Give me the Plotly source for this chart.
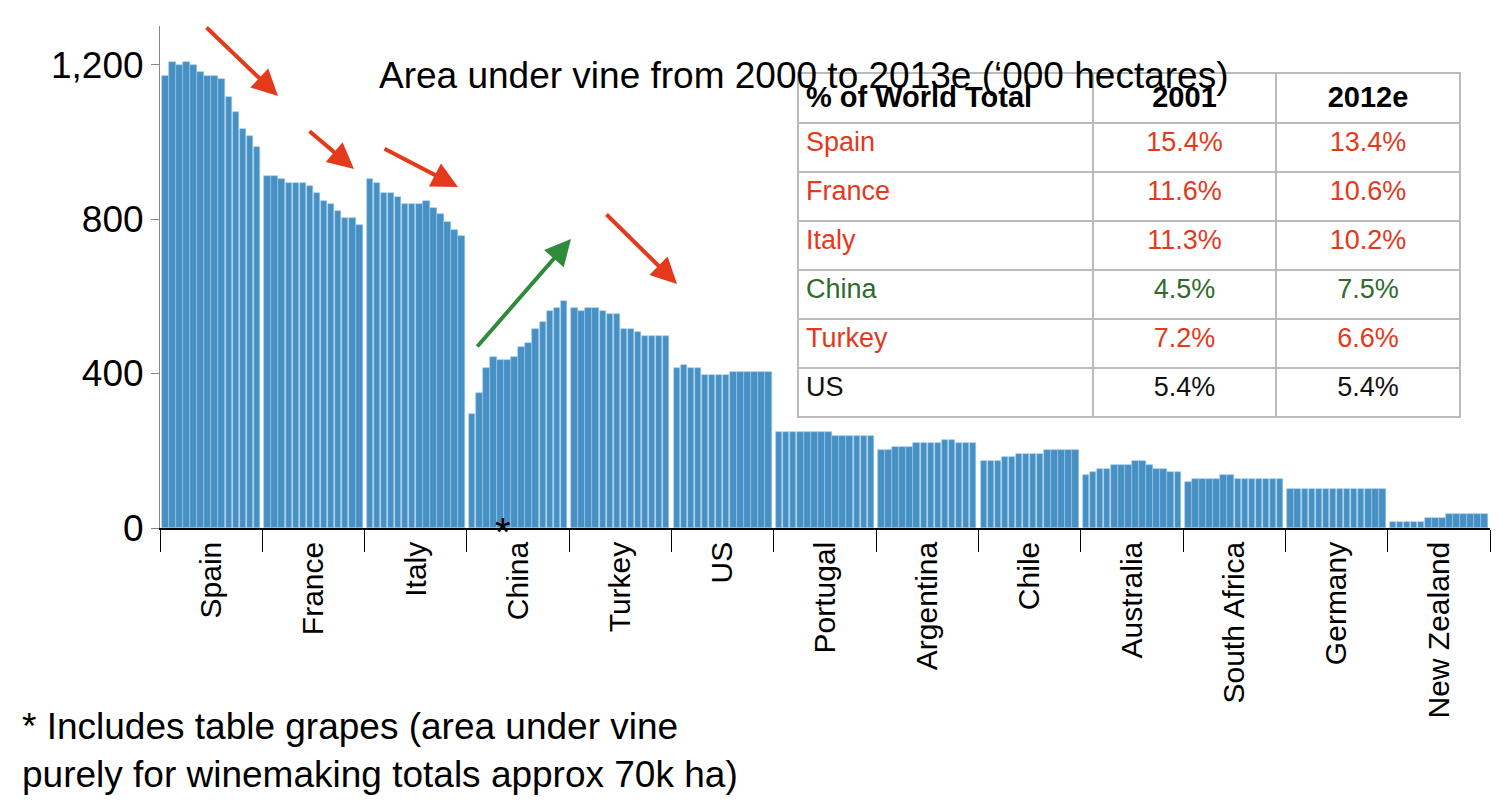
import plotly.graph_objects as go

countries = ["Spain", "France", "Italy", "China", "Turkey", "US", "Portugal", "Argentina",
             "Chile", "Australia", "South Africa", "Germany", "New Zealand"]
years = list(range(2000, 2014))

# '000 hectares, 2000..2013e
area = {
    "Spain": [1171, 1208, 1199, 1208, 1199, 1182, 1171, 1171, 1162, 1116, 1078, 1032, 1015, 987],
    "France": [912, 912, 903, 894, 894, 894, 886, 867, 848, 838, 821, 802, 802, 784],
    "Italy": [903, 894, 867, 867, 858, 840, 840, 840, 848, 829, 812, 793, 773, 756],
    "China": [294, 350, 415, 442, 434, 434, 442, 468, 480, 516, 534, 562, 570, 589],
    "Turkey": [570, 562, 570, 570, 562, 553, 553, 516, 516, 507, 497, 497, 497, 497],
    "US": [415, 423, 415, 415, 395, 395, 395, 395, 404, 404, 404, 404, 404, 404],
    "Portugal": [248, 248, 248, 248, 248, 248, 248, 248, 238, 238, 238, 238, 238, 238],
    "Argentina": [201, 201, 210, 210, 210, 219, 219, 219, 219, 228, 228, 219, 219, 219],
    "Chile": [173, 173, 173, 183, 183, 192, 192, 192, 192, 201, 201, 201, 201, 201],
    "Australia": [137, 146, 154, 154, 164, 164, 164, 173, 173, 164, 154, 154, 146, 146],
    "South Africa": [118, 127, 127, 127, 127, 137, 137, 127, 127, 127, 127, 127, 127, 127],
    "Germany": [100] * 14,
    "New Zealand": [16, 16, 16, 16, 16, 26, 26, 26, 35, 35, 35, 35, 35, 35],
}

tbl_country = ["Spain", "France", "Italy", "China", "Turkey", "US"]
tbl_2001 = ["15.4%", "11.6%", "11.3%", "4.5%", "7.2%", "5.4%"]
tbl_2012 = ["13.4%", "10.6%", "10.2%", "7.5%", "6.6%", "5.4%"]
tbl_colors = ["#e5391b", "#e5391b", "#e5391b", "#2f6b2f", "#e5391b", "#111111"]

STEP = 14.5
xs, ys, hov = [], [], []
for c, name in enumerate(countries):
    for i, v in enumerate(area[name]):
        xs.append(c * STEP + i)
        ys.append(v)
        hov.append(f"{name} {years[i]}")

SANS = "Liberation Sans, Arial, sans-serif"
L, R, T, B = 152, 26, 18, 285
W, H = 1508, 805


def px(x, y):
    # pixel -> paper coords
    return (x - L) / (W - L - R), (H - B - y) / (H - B - T)


fig = go.Figure()
fig.add_trace(go.Bar(
    x=xs, y=ys, width=0.92, hovertext=hov,
    marker=dict(color="#4690c4", line=dict(color="#9cc9ea", width=0.6)),
    showlegend=False,
))

fig.add_trace(go.Table(
    domain=dict(x=[px(790, 0)[0], px(1452, 0)[0]], y=[px(0, 410)[1], px(0, 65)[1]]),
    columnwidth=[295, 183, 184],
    header=dict(
        values=["<b>% of World Total</b>", "<b>2001</b>", "<b>2012e</b>"],
        align=["left", "center", "center"], height=50,
        font=dict(family=SANS, size=29, color="black"),
        fill_color="white", line=dict(color="#bbbbbb", width=2),
    ),
    cells=dict(
        values=[tbl_country, tbl_2001, tbl_2012],
        align=["left", "center", "center"], height=49,
        font=dict(family=SANS, size=27, color=[tbl_colors] * 3),
        fill_color="white", line=dict(color="#bbbbbb", width=2),
    ),
))

centers = [c * STEP + 6.5 for c in range(len(countries))]
fig.update_xaxes(
    range=[-0.75, (len(countries) - 1) * STEP + 13.75], automargin=False,
    tickvals=centers, ticktext=countries, tickangle=-90, ticks="",
    tickfont=dict(family=SANS, size=30, color="black"),
    showline=True, linecolor="black", linewidth=1.5, showgrid=False, zeroline=False,
    minor=dict(tick0=-0.75, dtick=STEP, ticks="outside", ticklen=22, tickcolor="black", showgrid=False),
)
fig.update_yaxes(
    range=[0, 1300], tickvals=[0, 400, 800, 1200], tickformat=",", automargin=False,
    tickfont=dict(family=SANS, size=37, color="black"),
    ticks="outside", ticklen=8, tickcolor="#888888",
    showline=True, linecolor="#888888", showgrid=False, zeroline=False,
)

anns = []
tx, ty = px(795, 45)
anns.append(dict(x=tx, y=ty, xref="paper", yref="paper", showarrow=False,
                 text="Area under vine from 2000 to 2013e (‘000 hectares)",
                 font=dict(family=SANS, size=37, color="black")))
ax_, ay_ = px(485, 548)
anns.append(dict(x=ax_, y=ay_, xref="paper", yref="paper", showarrow=False, text="*",
                 font=dict(family=SANS, size=40, color="black")))
fx, fy = px(12, 742)
anns.append(dict(x=fx, y=fy, xref="paper", yref="paper", showarrow=False, align="left",
                 xanchor="left", yanchor="middle",
                 text="* Includes table grapes (area under vine<br>purely for winemaking totals approx 70k ha)",
                 font=dict(family=SANS, size=37, color="black")))

arrows = [((197, 18), (270, 88), "#e5391b"), ((300, 122), (346, 161), "#e5391b"),
          ((375, 140), (450, 179), "#e5391b"), ((597, 205), (669, 276), "#e5391b"),
          ((468, 340), (563, 231), "#2e8b3a")]
for (x0, y0), (x1, y1), col in arrows:
    hx, hy = px(x1, y1)
    anns.append(dict(x=hx, y=hy, xref="paper", yref="paper", ax=x0 - x1, ay=y0 - y1,
                     axref="pixel", ayref="pixel", showarrow=True, arrowhead=2,
                     arrowsize=1.3, arrowwidth=4, arrowcolor=col, text=""))

fig.update_layout(
    width=W, height=H, margin=dict(l=L, r=R, t=T, b=B),
    plot_bgcolor="white", paper_bgcolor="white", bargap=0,
    annotations=anns,
)
fig.write_html("out.html")
